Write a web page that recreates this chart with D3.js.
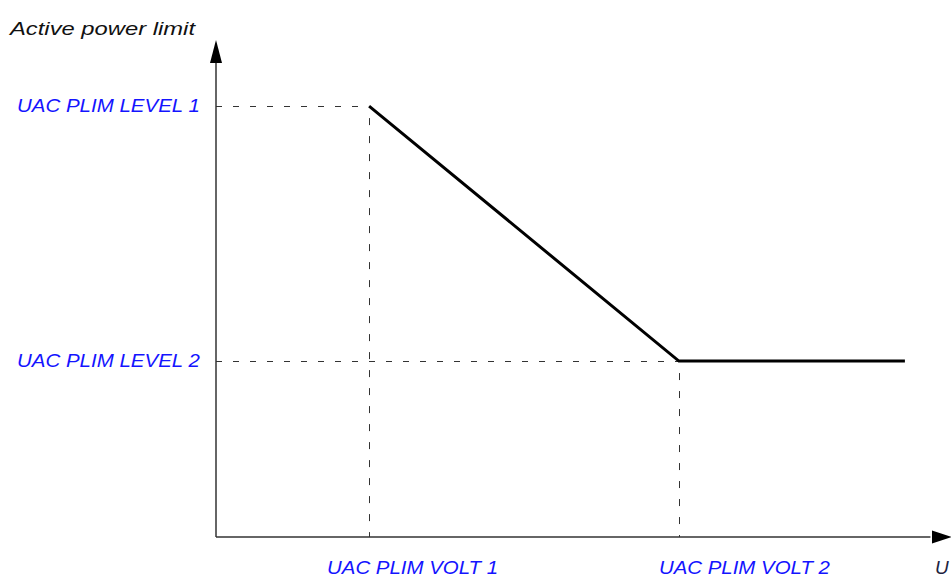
<!DOCTYPE html>
<html>
<head>
<meta charset="utf-8">
<script src="https://cdn.jsdelivr.net/npm/d3@7"></script>
<style>
  body { margin: 0; background: #fff; }
  svg { display: block; }
  text { font-family: "Liberation Sans", Arial, sans-serif; font-style: italic; }
</style>
</head>
<body>
<div id="chart"></div>
<script>
// breakpoints of the limit curve (arbitrary units, 0-100)
var voltLabels = ["UAC PLIM VOLT 1", "UAC PLIM VOLT 2"];
var voltValues = [21, 63.5];
var levelLabels = ["UAC PLIM LEVEL 1", "UAC PLIM LEVEL 2"];
var levelValues = [86.7, 35.4];
var curveX = [21, 63.5, 94.5];
var curveY = [86.7, 35.4, 35.4];

var width = 951,
  height = 578;

var svg = d3
  .select("#chart")
  .append("svg")
  .attr("width", width)
  .attr("height", height);

var x = d3.scaleLinear().domain([0, 100]).range([216, 945]);
var y = d3.scaleLinear().domain([0, 100]).range([537, 40]);

// snap thin lines to the pixel grid
function px(v) {
  return Math.round(v) + 0.5;
}

// dashed guide lines
levelValues.forEach(function (lv, i) {
  svg
    .append("line")
    .attr("x1", x(0))
    .attr("x2", x(voltValues[i]))
    .attr("y1", px(y(lv)))
    .attr("y2", px(y(lv)))
    .attr("stroke", "#333")
    .attr("stroke-width", 1)
    .attr("stroke-dasharray", "6,11");
  svg
    .append("line")
    .attr("x1", px(x(voltValues[i])))
    .attr("x2", px(x(voltValues[i])))
    .attr("y1", y(lv) + 12)
    .attr("y2", y(0))
    .attr("stroke", "#333")
    .attr("stroke-width", 1)
    .attr("stroke-dasharray", "7,11");
});

// axes with arrows
svg
  .append("line")
  .attr("x1", x(0))
  .attr("x2", x(0))
  .attr("y1", y(0))
  .attr("y2", y(96))
  .attr("stroke", "#333")
  .attr("stroke-width", 1.5);
svg
  .append("path")
  .attr("d", "M" + x(0) + "," + y(100) + "l-6,23h12z")
  .attr("fill", "#000");

svg
  .append("line")
  .attr("x1", x(0))
  .attr("x2", x(98))
  .attr("y1", y(0))
  .attr("y2", y(0))
  .attr("stroke", "#333")
  .attr("stroke-width", 1.5);
svg
  .append("path")
  .attr("d", "M" + (x(100) + 7) + "," + y(0) + "l-20,-6.5v13z")
  .attr("fill", "#000");

// limit curve
var pts = curveX.map(function (d, i) {
  return [d, curveY[i]];
});
svg
  .append("path")
  .datum(pts)
  .attr(
    "d",
    d3
      .line()
      .x(function (d) { return x(d[0]); })
      .y(function (d) { return y(d[1]); })
  )
  .attr("fill", "none")
  .attr("stroke", "#000")
  .attr("stroke-width", 3)
  .attr("stroke-linejoin", "miter");

// labels
svg
  .append("text")
  .attr("x", 10)
  .attr("y", 35)
  .attr("font-size", 19)
  .attr("textLength", 185)
  .attr("lengthAdjust", "spacingAndGlyphs")
  .attr("fill", "#111")
  .text("Active power limit");

svg
  .selectAll("text.level")
  .data(levelLabels)
  .enter()
  .append("text")
  .attr("class", "level")
  .attr("x", 17)
  .attr("y", function (d, i) { return y(levelValues[i]) + 6; })
  .attr("font-size", 19)
  .attr("textLength", 183)
  .attr("lengthAdjust", "spacingAndGlyphs")
  .attr("fill", "#1414ff")
  .text(function (d) { return d; });

var voltShift = [-42, -20];
svg
  .selectAll("text.volt")
  .data(voltLabels)
  .enter()
  .append("text")
  .attr("class", "volt")
  .attr("x", function (d, i) { return x(voltValues[i]) + voltShift[i]; })
  .attr("y", 574)
  .attr("font-size", 19)
  .attr("textLength", 171)
  .attr("lengthAdjust", "spacingAndGlyphs")
  .attr("fill", "#1414ff")
  .text(function (d) { return d; });

svg
  .append("text")
  .attr("x", 935)
  .attr("y", 574)
  .attr("font-size", 19)
  .attr("fill", "#1c2340")
  .text("U");
</script>
</body>
</html>
